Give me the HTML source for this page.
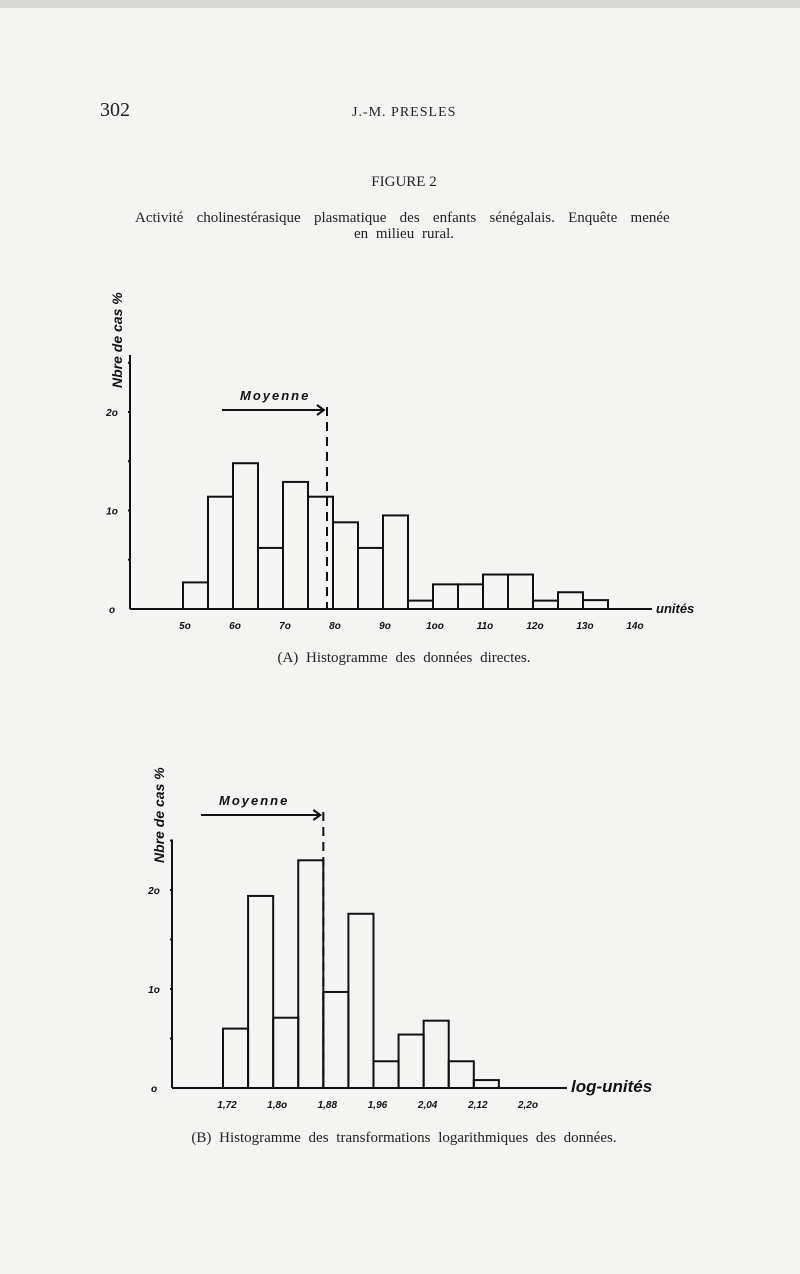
<!DOCTYPE html>
<html><head><meta charset="utf-8">
<style>
html,body{margin:0;padding:0;background:#f3f3f1;}
#page{position:relative;width:800px;height:1274px;background:#f4f4f2;overflow:hidden;font-family:"Liberation Serif",serif;color:#222;}
.t{position:absolute;white-space:nowrap;}
.hand{font-family:"Liberation Sans",sans-serif;font-weight:bold;font-style:italic;fill:#111;}
</style></head>
<body>
<div id="page">
<div style="position:absolute;left:0;top:0;width:800px;height:8px;background:#d8d8d6"></div>
<div class="t" style="left:100px;top:99px;font-size:20px">302</div>
<div class="t" style="left:352px;top:105px;font-size:14px;letter-spacing:1px">J.-M. PRESLES</div>
<div class="t" style="left:0;width:808px;text-align:center;top:174px;font-size:15px">FIGURE 2</div>
<div class="t" style="left:135px;top:210px;font-size:15px;word-spacing:9.5px">Activité cholinestérasique plasmatique des enfants sénégalais. Enquête menée</div>
<div class="t" style="left:0;width:808px;text-align:center;top:226px;font-size:15px;word-spacing:4px">en milieu rural.</div>
<div class="t" style="left:0;width:808px;text-align:center;top:650px;font-size:15px;word-spacing:4px">(A) Histogramme des données directes.</div>
<div class="t" style="left:0;width:808px;text-align:center;top:1130px;font-size:15px;word-spacing:4px">(B) Histogramme des transformations logarithmiques des données.</div>
<svg id="svg" width="800" height="1274" style="position:absolute;left:0;top:0"></svg>
</div>
<script>
// Chart A data
const aEdges = [50,55,60,65,70,75,80,85,90,95,100,105,110,115,120,125,130];
const aValues = [2.7,11.4,14.8,6.2,12.9,11.4,8.8,6.2,9.5,0.85,2.5,2.5,3.5,3.5,0.85,1.7,0.9];
const aXTicks = [50,60,70,80,90,100,110,120,130,140];
const aXLabels = ["5o","6o","7o","8o","9o","1oo","11o","12o","13o","14o"];
const aYTicks = [0,10,20];
const aYLabels = ["o","1o","2o"];
const aMean = 78.8;
// Chart B data
const bEdges = [1.72,1.76,1.80,1.84,1.88,1.92,1.96,2.00,2.04,2.08,2.12];
const bValues = [6.0,19.4,7.1,23.0,9.7,17.6,2.7,5.4,6.8,2.7,0.8];
const bXTicks = [1.72,1.80,1.88,1.96,2.04,2.12,2.20];
const bXLabels = ["1,72","1,8o","1,88","1,96","2,04","2,12","2,2o"];
const bYTicks = [0,10,20];
const bYLabels = ["o","1o","2o"];
const bMean = 1.88;

const svg = document.getElementById('svg');
const NS = 'http://www.w3.org/2000/svg';
function mk(tag, attrs){const e=document.createElementNS(NS,tag);for(const k in attrs)e.setAttribute(k,attrs[k]);svg.appendChild(e);return e;}

function drawChart(o){
  const X=v=>o.x0+(v-o.v0)*o.kx, Y=v=>o.y0-v*o.ky;
  let e;
  e=mk('line',{x1:o.ax,y1:o.y0,x2:o.ax,y2:o.ytop,stroke:'#111','stroke-width':2});
  
  
  e=mk('line',{x1:o.ax,y1:o.y0,x2:o.xend,y2:o.y0,stroke:'#111','stroke-width':2});
  
  
  for(let v=5; v<=o.ymax; v+=5){
    e=mk('line',{x1:o.ax-2,y1:Y(v),x2:o.ax+1,y2:Y(v),stroke:'#111','stroke-width':2});
    
    
  }
  o.yt.forEach((v,i)=>{
    const t=mk('text',{x:o.ax-18,y:Y(v)+4,'font-size':10,'text-anchor':'middle',class:'hand'});
    t.textContent=o.yl[i];
    
    
  });
  o.xt.forEach((v,i)=>{
    const t=mk('text',{x:X(v)+o.lo,y:o.y0+20,'font-size':10,'text-anchor':'middle',class:'hand'});
    t.textContent=o.xl[i];
    
    
  });
  o.vals.forEach((v,i)=>{
    const x1=X(o.edges[i]), x2=X(o.edges[i]+o.w);
    const r=mk('rect',{x:x1,y:Y(v),width:x2-x1,height:o.y0-Y(v),fill:'none',stroke:'#111','stroke-width':2});
    
    
  });
  const mx=X(o.mean);
  e=mk('line',{x1:mx,y1:o.mtop,x2:mx,y2:o.y0,stroke:'#111','stroke-width':2,'stroke-dasharray':'9,6'});
  
  
  e=mk('path',{d:`M${o.arx} ${o.mtop+3} H${mx-3} M${mx-10} ${o.mtop-2} L${mx-3} ${o.mtop+3} L${mx-10} ${o.mtop+8}`,fill:'none',stroke:'#111','stroke-width':2});
  
  
  const t=mk('text',{x:o.arx+18,y:o.mtop-7,'font-size':13,'letter-spacing':2,class:'hand'});
  t.textContent='Moyenne';
  
  
  const yl=mk('text',{x:0,y:0,'font-size':14,class:'hand',transform:`translate(${o.ax-8},${o.ytitle}) rotate(-90)`});
  yl.textContent='Nbre de cas %';
  
  
  const xlab=mk('text',{x:o.xend+4,y:o.y0+4,'font-size':o.xfs,class:'hand'});
  xlab.textContent=o.xtitle;
  
  
}
drawChart({p:'chart-a',edges:aEdges,vals:aValues,w:5,xt:aXTicks,xl:aXLabels,yt:aYTicks,yl:aYLabels,mean:aMean,
  x0:183,v0:50,kx:5.0,y0:609,ky:9.85,ax:130,ytop:355,xend:652,ymax:25,mtop:407,arx:222,ytitle:388,xtitle:'unités',xfs:13,lo:2});
drawChart({p:'chart-b',edges:bEdges,vals:bValues,w:0.04,xt:bXTicks,xl:bXLabels,yt:bYTicks,yl:bYLabels,mean:bMean,
  x0:223,v0:1.72,kx:627,y0:1088,ky:9.9,ax:172,ytop:840,xend:567,ymax:25,mtop:812,arx:201,ytitle:863,xtitle:'log-unités',xfs:17,lo:4});
</script>
</body></html>
